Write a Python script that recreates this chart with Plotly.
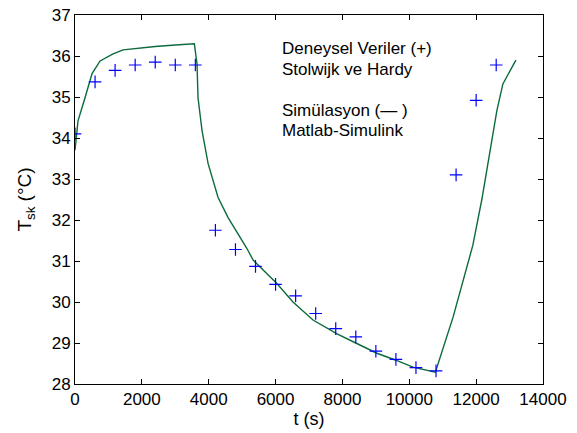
import plotly.graph_objects as go

# Experimental data (Stolwijk & Hardy)
exp_t = [0, 600, 1200, 1800, 2400, 3000, 3600, 4200, 4800, 5400, 6000, 6600,
         7200, 7800, 8400, 9000, 9600, 10200, 10800, 11400, 12000, 12600]
exp_T = [34.1, 35.37, 35.65, 35.78, 35.85, 35.78, 35.78, 31.75, 31.28, 30.87,
         30.43, 30.15, 29.72, 29.35, 29.15, 28.8, 28.6, 28.4, 28.32, 33.1, 34.92, 35.78]

# Simulation (Matlab-Simulink)
sim_t = [0, 90, 300, 510, 750, 1140, 1440, 1940, 2400, 3000, 3570, 3650, 3680,
         3800, 3980, 4280, 4580, 5140, 5330, 6040, 6520, 7120, 7840, 8400, 9030,
         9600, 10110, 10780, 11310, 11900, 12170, 12470, 12620, 12800, 13190]
sim_T = [33.7, 34.42, 34.98, 35.57, 35.88, 36.05, 36.15, 36.2, 36.23, 36.27, 36.3,
         35.81, 34.98, 34.18, 33.38, 32.55, 32.06, 31.31, 31.02, 30.45, 30.0, 29.56,
         29.22, 29.0, 28.75, 28.58, 28.41, 28.29, 29.63, 31.38, 32.5, 33.94, 34.67,
         35.32, 35.9]

x_ticks = [0, 2000, 4000, 6000, 8000, 10000, 12000, 14000]
y_ticks = [28, 29, 30, 31, 32, 33, 34, 35, 36, 37]

font = "Liberation Sans, Arial, Helvetica, sans-serif"

fig = go.Figure()
fig.add_trace(go.Scatter(x=sim_t, y=sim_T, mode="lines",
                         line=dict(color="#0b6b3c", width=1.4), showlegend=False))
fig.add_trace(go.Scatter(x=exp_t, y=exp_T, mode="markers",
                         marker=dict(symbol="cross-thin", size=9,
                                     line=dict(color="#0000ff", width=1.2)),
                         showlegend=False))

notes = [("Deneysel Veriler (+)", 36.18), ("Stolwijk ve Hardy", 35.66),
         ("Simülasyon (— )", 34.67), ("Matlab-Simulink", 34.18)]
for txt, yv in notes:
    fig.add_annotation(x=6130, y=yv, text=txt, showarrow=False, xanchor="left",
                       yanchor="middle", font=dict(family=font, size=17, color="black"))

axis_common = dict(showline=True, linecolor="black", linewidth=1, mirror="ticks",
                   ticks="inside", ticklen=5, tickcolor="black", showgrid=False,
                   zeroline=False, automargin=False, ticklabeloverflow="allow",
                   tickfont=dict(family=font, size=17, color="black"))

fig.update_xaxes(range=[0, 14000], tickvals=x_ticks, ticktext=[str(v) for v in x_ticks],
                 title=dict(text="t (s)", font=dict(family=font, size=18, color="black"),
                            standoff=3), **axis_common)
fig.update_yaxes(range=[28, 37], tickvals=y_ticks, ticktext=[str(v) for v in y_ticks],
                 title=dict(text="T<sub>sk</sub> (°C)",
                            font=dict(family=font, size=19, color="black"), standoff=15),
                 **axis_common)

fig.update_layout(width=577, height=433, margin=dict(l=75, r=34, t=15, b=49),
                  paper_bgcolor="white", plot_bgcolor="white", hovermode=False,
                  font=dict(family=font, color="black"))

fig.write_html("out.html", config={"displayModeBar": False},
               post_script="document.body.style.margin='0';"
                           "document.body.style.overflow='hidden';")
